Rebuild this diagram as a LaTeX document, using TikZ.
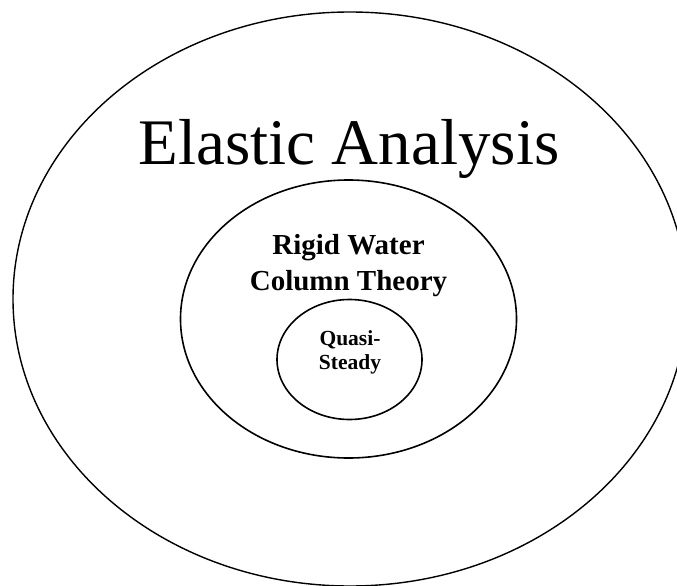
\documentclass[tikz,border=0pt]{standalone}
\usepackage{fontspec}
\setmainfont{Liberation Serif}
\usetikzlibrary{shapes.geometric}

\begin{document}
\begin{tikzpicture}[x=1pt, y=-1pt,
    ring/.style={ellipse, draw=black, line width=1.6pt, inner sep=0pt, outer sep=0pt},
    tag/.style={anchor=base, align=center, inner sep=0pt},
  ]
    \useasboundingbox (0,0) rectangle (677,586);
    \node[ring, line width=1.4pt, minimum width=674pt, minimum height=574pt] (elastic) at (350,299) {};
    \node[ring, minimum width=336pt, minimum height=278pt] (rigid) at (348.5,319) {};
    \node[ring, minimum width=145pt, minimum height=120pt] (quasi) at (349.5,359.5) {};
    \node[tag, font=\fontsize{65}{78}\selectfont] (elastictxt) at (349,164) {Elastic Analysis};
    \node[tag, font=\fontsize{29}{36}\selectfont\bfseries] (rigidtxt) at (348.5,290) {Rigid Water\\Column Theory};
    \node[tag, font=\fontsize{21.5}{24}\selectfont\bfseries] (quasitxt) at (350,369) {Quasi-\\Steady};
  \end{tikzpicture}
\end{document}
